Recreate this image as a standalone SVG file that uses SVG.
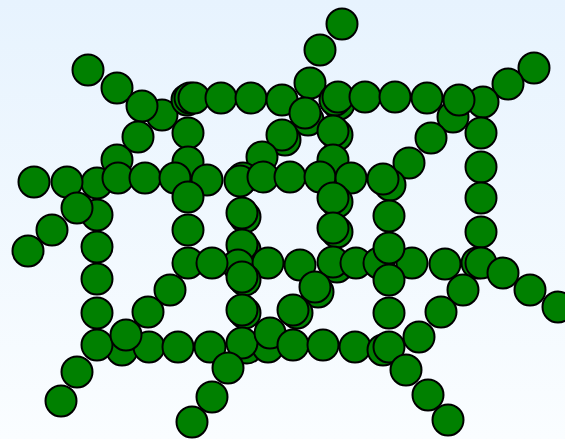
<svg xmlns="http://www.w3.org/2000/svg" width="565" height="439" viewBox="0 0 565 439">
<defs>
<linearGradient id="bg" x1="0" y1="0" x2="0" y2="1">
<stop offset="0" stop-color="#e7f3fe"/>
<stop offset="1" stop-color="#fafdff"/>
</linearGradient>
<style>
circle{fill:#008000;stroke:#000;stroke-width:2}
</style>
</defs>
<rect width="565" height="439" fill="url(#bg)"/>
<g id="atoms">
<circle cx="342" cy="24" r="15.5"/>
<circle cx="320" cy="50" r="15.5"/>
<circle cx="310" cy="83" r="15.5"/>
<circle cx="534" cy="68" r="15.5"/>
<circle cx="508" cy="84" r="15.5"/>
<circle cx="88" cy="70" r="15.5"/>
<circle cx="117" cy="88" r="15.5"/>
<circle cx="162" cy="115" r="15.5"/>
<circle cx="142" cy="106" r="15.5"/>
<circle cx="187" cy="100" r="15.5"/>
<circle cx="190" cy="98" r="15.5"/>
<circle cx="194" cy="98" r="15.5"/>
<circle cx="221" cy="98" r="15.5"/>
<circle cx="251" cy="98" r="15.5"/>
<circle cx="282" cy="100" r="15.5"/>
<circle cx="339" cy="104" r="15.5"/>
<circle cx="335" cy="100" r="15.5"/>
<circle cx="338" cy="97" r="15.5"/>
<circle cx="365" cy="97" r="15.5"/>
<circle cx="395" cy="97" r="15.5"/>
<circle cx="427" cy="98" r="15.5"/>
<circle cx="483" cy="102" r="15.5"/>
<circle cx="453" cy="117" r="15.5"/>
<circle cx="459" cy="100" r="15.5"/>
<circle cx="481" cy="133" r="15.5"/>
<circle cx="308" cy="120" r="15.5"/>
<circle cx="305" cy="113" r="15.5"/>
<circle cx="285" cy="140" r="15.5"/>
<circle cx="282" cy="135" r="15.5"/>
<circle cx="337" cy="135" r="15.5"/>
<circle cx="333" cy="131" r="15.5"/>
<circle cx="138" cy="137" r="15.5"/>
<circle cx="188" cy="133" r="15.5"/>
<circle cx="431" cy="138" r="15.5"/>
<circle cx="117" cy="160" r="15.5"/>
<circle cx="188" cy="162" r="15.5"/>
<circle cx="262" cy="157" r="15.5"/>
<circle cx="333" cy="160" r="15.5"/>
<circle cx="409" cy="163" r="15.5"/>
<circle cx="481" cy="167" r="15.5"/>
<circle cx="97" cy="183" r="15.5"/>
<circle cx="34" cy="182" r="15.5"/>
<circle cx="67" cy="182" r="15.5"/>
<circle cx="118" cy="178" r="15.5"/>
<circle cx="145" cy="178" r="15.5"/>
<circle cx="175" cy="178" r="15.5"/>
<circle cx="207" cy="180" r="15.5"/>
<circle cx="243" cy="178" r="15.5"/>
<circle cx="240" cy="181" r="15.5"/>
<circle cx="263" cy="177" r="15.5"/>
<circle cx="290" cy="177" r="15.5"/>
<circle cx="320" cy="177" r="15.5"/>
<circle cx="351" cy="178" r="15.5"/>
<circle cx="390" cy="185" r="15.5"/>
<circle cx="383" cy="179" r="15.5"/>
<circle cx="188" cy="197" r="15.5"/>
<circle cx="337" cy="202" r="15.5"/>
<circle cx="333" cy="198" r="15.5"/>
<circle cx="481" cy="198" r="15.5"/>
<circle cx="97" cy="215" r="15.5"/>
<circle cx="245" cy="217" r="15.5"/>
<circle cx="242" cy="213" r="15.5"/>
<circle cx="389" cy="216" r="15.5"/>
<circle cx="52" cy="230" r="15.5"/>
<circle cx="28" cy="251" r="15.5"/>
<circle cx="77" cy="208" r="15.5"/>
<circle cx="188" cy="230" r="15.5"/>
<circle cx="337" cy="232" r="15.5"/>
<circle cx="333" cy="228" r="15.5"/>
<circle cx="481" cy="232" r="15.5"/>
<circle cx="97" cy="247" r="15.5"/>
<circle cx="245" cy="250" r="15.5"/>
<circle cx="242" cy="245" r="15.5"/>
<circle cx="238" cy="265" r="15.5"/>
<circle cx="188" cy="263" r="15.5"/>
<circle cx="212" cy="263" r="15.5"/>
<circle cx="268" cy="263" r="15.5"/>
<circle cx="300" cy="265" r="15.5"/>
<circle cx="337" cy="267" r="15.5"/>
<circle cx="333" cy="262" r="15.5"/>
<circle cx="356" cy="263" r="15.5"/>
<circle cx="379" cy="263" r="15.5"/>
<circle cx="412" cy="263" r="15.5"/>
<circle cx="445" cy="264" r="15.5"/>
<circle cx="477" cy="263" r="15.5"/>
<circle cx="481" cy="263" r="15.5"/>
<circle cx="389" cy="248" r="15.5"/>
<circle cx="245" cy="280" r="15.5"/>
<circle cx="242" cy="277" r="15.5"/>
<circle cx="97" cy="279" r="15.5"/>
<circle cx="318" cy="292" r="15.5"/>
<circle cx="315" cy="287" r="15.5"/>
<circle cx="389" cy="280" r="15.5"/>
<circle cx="503" cy="273" r="15.5"/>
<circle cx="530" cy="290" r="15.5"/>
<circle cx="558" cy="307" r="15.5"/>
<circle cx="463" cy="290" r="15.5"/>
<circle cx="170" cy="290" r="15.5"/>
<circle cx="97" cy="313" r="15.5"/>
<circle cx="148" cy="312" r="15.5"/>
<circle cx="245" cy="313" r="15.5"/>
<circle cx="242" cy="310" r="15.5"/>
<circle cx="297" cy="313" r="15.5"/>
<circle cx="293" cy="310" r="15.5"/>
<circle cx="389" cy="313" r="15.5"/>
<circle cx="441" cy="312" r="15.5"/>
<circle cx="122" cy="350" r="15.5"/>
<circle cx="97" cy="345" r="15.5"/>
<circle cx="149" cy="347" r="15.5"/>
<circle cx="178" cy="347" r="15.5"/>
<circle cx="210" cy="347" r="15.5"/>
<circle cx="126" cy="335" r="15.5"/>
<circle cx="247" cy="348" r="15.5"/>
<circle cx="268" cy="347" r="15.5"/>
<circle cx="242" cy="343" r="15.5"/>
<circle cx="270" cy="333" r="15.5"/>
<circle cx="293" cy="345" r="15.5"/>
<circle cx="323" cy="345" r="15.5"/>
<circle cx="355" cy="347" r="15.5"/>
<circle cx="383" cy="350" r="15.5"/>
<circle cx="419" cy="337" r="15.5"/>
<circle cx="389" cy="347" r="15.5"/>
<circle cx="77" cy="372" r="15.5"/>
<circle cx="61" cy="401" r="15.5"/>
<circle cx="228" cy="368" r="15.5"/>
<circle cx="212" cy="397" r="15.5"/>
<circle cx="192" cy="422" r="15.5"/>
<circle cx="406" cy="370" r="15.5"/>
<circle cx="428" cy="395" r="15.5"/>
<circle cx="448" cy="420" r="15.5"/>
</g>
</svg>
